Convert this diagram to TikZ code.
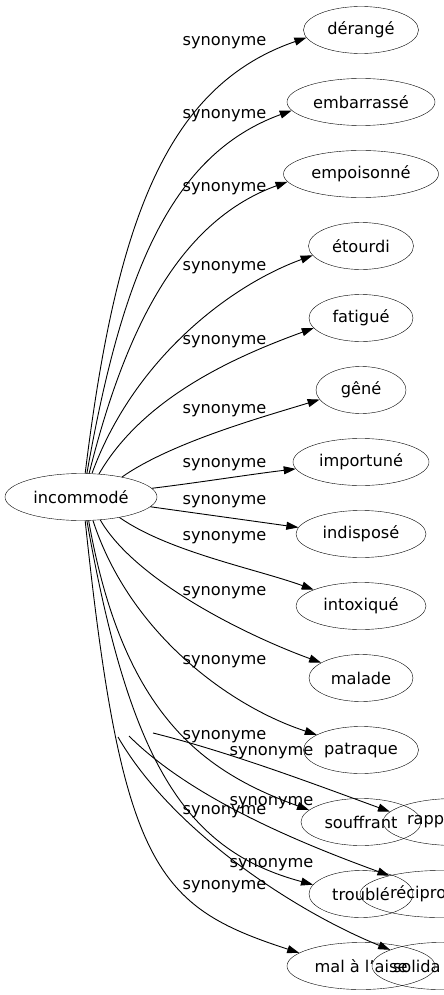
\documentclass[tikz,border=0pt]{standalone}
\usepackage{fontspec}
\setmainfont{DejaVu Sans}
\usetikzlibrary{shapes.geometric,arrows.meta}
\begin{document}
\begin{tikzpicture}[x=1pt,y=1pt,font=\fontsize{16.2}{19}\selectfont,
                word/.style={draw,ellipse,inner sep=2pt,minimum height=47pt},
                cut/.style={word,inner xsep=0pt,align=left},
                syn/.style={-{Triangle[length=12pt,width=8pt]},line width=0.9pt},
                lab/.style={inner sep=0pt}]
                \clip (0,0) rectangle (444,-995);
                \node[word,minimum width=152pt] (inc) at (81,-497) {incommodé};
                \node[word,minimum width=115pt] (s1) at (361,-30) {dérangé};
                \node[word,minimum width=148pt] (s2) at (361,-102) {embarrassé};
                \node[word,minimum width=155pt] (s3) at (361,-174) {empoisonné};
                \node[word,minimum width=105pt] (s4) at (361,-246) {étourdi};
                \node[word,minimum width=104pt] (s5) at (361,-318) {fatigué};
                \node[word,minimum width=90pt] (s6) at (361,-390) {gêné};
                \node[word,minimum width=136pt] (s7) at (361,-462) {importuné};
                \node[word,minimum width=130pt] (s8) at (361,-534) {indisposé};
                \node[word,minimum width=130pt] (s9) at (361,-606) {intoxiqué};
                \node[word,minimum width=104pt] (s10) at (361,-678) {malade};
                \node[word,minimum width=115pt] (s11) at (361,-750) {patraque};
                \node[word,minimum width=120pt] (s12) at (361,-822) {souffrant};
                \node[word,minimum width=104pt] (s13) at (361,-894) {troublé};
                \node[word,minimum width=148pt] (s14) at (361,-966) {mal à l'aise};
                \node[cut,minimum width=144pt,text width=96pt] (r1) at (455,-822) {rapp};
                \node[cut,minimum width=160pt,text width=100pt] (r2) at (440,-894) {récipro};
                \node[cut,minimum width=136pt,text width=94pt] (r3) at (440,-966) {solida};

                \node[lab] (l1) at (224.5,-43) {synonyme};
                \node[lab] (l2) at (224.5,-116) {synonyme};
                \node[lab] (l3) at (224.5,-189) {synonyme};
                \node[lab] (l4) at (224.5,-268) {synonyme};
                \node[lab] (l5) at (224.5,-342) {synonyme};
                \node[lab] (l6) at (224.5,-411) {synonyme};
                \node[lab] (l7) at (224.5,-465) {synonyme};
                \node[lab] (l8) at (224.5,-502) {synonyme};
                \node[lab] (l9) at (224.5,-538) {synonyme};
                \node[lab] (l10) at (224.5,-593) {synonyme};
                \node[lab] (l11) at (224.5,-662) {synonyme};
                \node[lab] (l12) at (224.5,-737) {synonyme};
                \node[lab] (l13) at (224.5,-812) {synonyme};
                \node[lab] (l14) at (224.5,-887) {synonyme};
                \node[lab] (l15) at (271.5,-753) {synonyme};
                \node[lab] (l16) at (271.5,-803) {synonyme};
                \node[lab] (l17) at (271.5,-865) {synonyme};

                \coordinate (x1) at (153,-733);
                \coordinate (x2) at (129,-736);
                \coordinate (x3) at (118,-737);

                \draw[syn] (inc.80) .. controls +(83:250pt) and +(199:150pt) .. (s1.188);
                \draw[syn] (inc.76) .. controls +(80:200pt) and +(200:130pt) .. (s2.187);
                \draw[syn] (inc.71) .. controls +(76:160pt) and +(200:110pt) .. (s3.186);
                \draw[syn] (inc.65) .. controls +(70:120pt) and +(200:90pt) .. (s4.191);
                \draw[syn] (inc.52) .. controls +(60:90pt) and +(200:80pt) .. (s5.192);
                \draw[syn] (inc.26) .. controls +(35:60pt) and +(197:60pt) .. (s6.193);
                \draw[syn] (inc.7) .. controls +(7:50pt) and +(187:50pt) .. (s7.186);
                \draw[syn] (inc.-8) .. controls +(-8:50pt) and +(172:50pt) .. (s8.174);
                \draw[syn] (inc.-28) .. controls +(-35:60pt) and +(160:60pt) .. (s9.161);
                \draw[syn] (inc.-50) .. controls +(-60:70pt) and +(160:80pt) .. (s10.159);
                \draw[syn] (inc.-63) .. controls +(-72:120pt) and +(162:90pt) .. (s11.161);
                \draw[syn] (inc.-72) .. controls +(-80:200pt) and +(160:110pt) .. (s12.167);
                \draw[syn] (inc.-76) .. controls +(-80:250pt) and +(165:130pt) .. (s13.169);
                \draw[syn] (inc.-80) .. controls +(-84:350pt) and +(162:150pt) .. (s14.168);
                \draw[syn] (x1) .. controls +(-14:80pt) and +(160:80pt) .. (r1.171);
                \draw[syn] (x2) .. controls +(-45:90pt) and +(160:90pt) .. (r2.160);
                \draw[syn] (x3) .. controls +(-60:110pt) and +(158:100pt) .. (r3.162);
            \end{tikzpicture}
\end{document}
